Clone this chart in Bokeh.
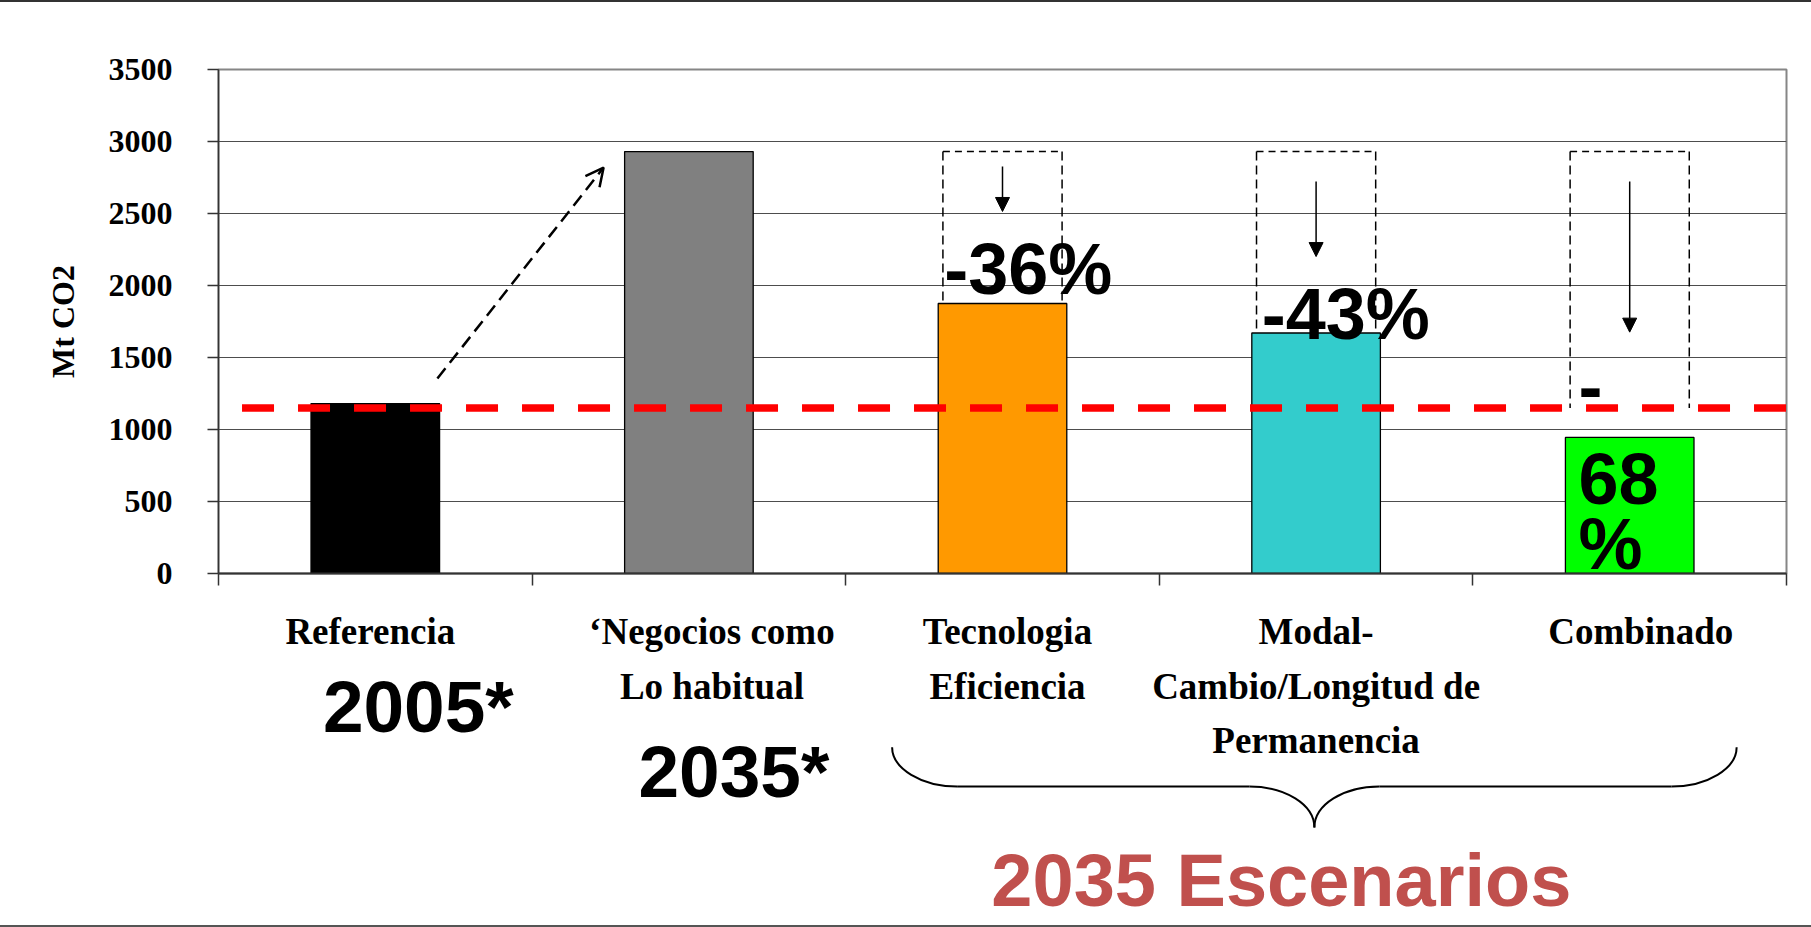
from bokeh.plotting import figure
from bokeh.models import Range1d, FixedTicker, Label, Arrow, NormalHead, OpenHead
from bokeh.layouts import column
from bokeh.embed import file_html
from bokeh.resources import INLINE
from bokeh.core.properties import value

# ---- data -------------------------------------------------------------
categories = [
    "Referencia",
    "\u2018Negocios como\nLo habitual",
    "Tecnologia\nEficiencia",
    "Modal-\nCambio/Longitud de\nPermanencia",
    "Combinado",
]
emissions = [1180, 2930, 1875, 1670, 945]          # Mt CO2
reductions = [None, None, 36, 43, 68]               # % below business as usual
target = 1150                                       # 2005 reference level
bar_colors = ["#000000", "#808080", "#FF9900", "#33CCCC", "#00FF00"]
y_ticks = [0, 500, 1000, 1500, 2000, 2500, 3000, 3500]
period_labels = ["2005*", "2035*"]
group_label = "2035 Escenarios"

# ---- page geometry -----------------------------------------------------
W = 1811
FRAME_L, FRAME_R = 218, 1786
UNIT = (FRAME_R - FRAME_L) / len(categories)        # px per category
MAIN_H = 588
LOWER_TOP, LOWER_BOTTOM = 590, 925
BASE = 0.375                                         # alphabetic baseline shift (em)

SANS = "Liberation Sans"
SERIF = "Liberation Serif"

xs = [i + 0.5 for i in range(len(categories))]
bar_w = 0.41
bau = emissions[1]

# ---- main chart --------------------------------------------------------
p = figure(width=W, height=MAIN_H, x_range=Range1d(0, len(categories)),
           y_range=Range1d(0, 3500), output_backend="svg", toolbar_location=None,
           min_border_left=FRAME_L, min_border_right=W - FRAME_R,
           min_border_top=67, min_border_bottom=17)
p.background_fill_color = "white"
p.border_fill_color = "white"
p.outline_line_color = "#868686"
p.outline_line_width = 2

p.xaxis.ticker = FixedTicker(ticks=list(range(len(categories) + 1)))
p.xaxis.major_label_overrides = {i: "" for i in range(len(categories) + 1)}
p.xaxis.major_label_text_font_size = "0px"
p.xaxis.major_label_standoff = 0
p.xaxis.major_tick_in = 0
p.xaxis.major_tick_out = 12
p.xaxis.minor_tick_line_color = None
p.xaxis.axis_line_color = "#333333"
p.xaxis.axis_line_width = 2
p.xaxis.major_tick_line_color = "#333333"
p.xaxis.major_tick_line_width = 1.5

p.yaxis.ticker = FixedTicker(ticks=y_ticks)
p.yaxis.major_label_text_font = SERIF
p.yaxis.major_label_text_font_style = "bold"
p.yaxis.major_label_text_font_size = "32px"
p.yaxis.major_label_text_color = "black"
p.yaxis.major_label_standoff = 35
p.yaxis.major_tick_in = 0
p.yaxis.major_tick_out = 11
p.yaxis.minor_tick_line_color = None
p.yaxis.axis_line_color = "#333333"
p.yaxis.axis_line_width = 1.5
p.yaxis.major_tick_line_color = "#333333"
p.yaxis.major_tick_line_width = 1.5
p.yaxis.axis_label = "Mt CO2"
p.yaxis.axis_label_text_font = SERIF
p.yaxis.axis_label_text_font_style = "bold"
p.yaxis.axis_label_text_font_size = "32px"
p.yaxis.axis_label_text_color = "black"
p.yaxis.axis_label_standoff = 25

p.xgrid.visible = False
p.ygrid.ticker = FixedTicker(ticks=y_ticks)
p.ygrid.grid_line_color = "#4d4d4d"
p.ygrid.grid_line_width = 1.2

p.vbar(x=xs, top=emissions, width=bar_w, fill_color=bar_colors,
       line_color="#000000", line_width=1.3)

# dashed boxes marking the business-as-usual level above each scenario
box_half = 0.19
box_x0, box_x1, side_x, side_top, side_bottom = [], [], [], [], []
for i, r in enumerate(reductions):
    if r is None:
        continue
    box_x0.append(xs[i] - box_half)
    box_x1.append(xs[i] + box_half)
    for sx in (xs[i] - box_half, xs[i] + box_half):
        side_x.append(sx)
        side_top.append(bau)
        side_bottom.append(max(emissions[i], target))
p.segment(x0=box_x0, y0=[bau] * len(box_x0), x1=box_x1, y1=[bau] * len(box_x0),
          line_color="black", line_width=1.5, line_dash="7 5")
p.segment(x0=side_x, y0=side_top, x1=side_x, y1=side_bottom,
          line_color="black", line_width=1.5, line_dash="9 5")

# reference level line
p.line(x=[0.075, len(categories)], y=[target, target], line_color="#FF0000",
       line_width=7.5, line_dash="32 24")

# growth arrow from 2005 to business as usual
p.add_layout(Arrow(x_start=0.698, y_start=1354, x_end=1.228, y_end=2819,
                   line_color="black", line_width=2.5, line_dash="13 7",
                   end=OpenHead(size=18, line_color="black", line_width=2.5)))

# drop arrows inside the boxes
drop_start = {2: 2826, 3: 2722, 4: 2722}
drop_tip = {2: 2514, 3: 2201, 4: 1676}
for i in drop_start:
    p.add_layout(Arrow(x_start=xs[i], y_start=drop_start[i], x_end=xs[i], y_end=drop_tip[i],
                       line_color="black", line_width=1.5,
                       end=NormalHead(size=14, fill_color="black", line_color="black")))

# reduction labels beside the scenario bars
PCT_FS = 72
label_layout = {
    2: dict(wrap=False, dx=6, dys=[8]),
    3: dict(wrap=False, dx=10, dys=[-8]),
    4: dict(wrap=True, dx=13, dys=[24, -69, -134]),
}
for i, r in enumerate(reductions):
    if r is None:
        continue
    lay = label_layout[i]
    lines = ["-", str(r), "%"] if lay["wrap"] else [f"-{r}%"]
    for line, dy in zip(lines, lay["dys"]):
        p.add_layout(Label(x=xs[i] - bar_w / 2, y=emissions[i], text=line,
                           x_offset=lay["dx"], y_offset=dy + BASE * PCT_FS,
                           text_font=SANS, text_font_style="bold",
                           text_font_size=f"{PCT_FS}px", text_color="black",
                           text_align="left", text_baseline="alphabetic"))

# ---- category captions, years and scenario brace ----------------------
q = figure(width=W, height=LOWER_BOTTOM - LOWER_TOP,
           x_range=p.x_range, y_range=Range1d(LOWER_BOTTOM, LOWER_TOP),
           x_axis_location=None, y_axis_location=None,
           min_border_left=FRAME_L, min_border_right=W - FRAME_R,
           min_border_top=0, min_border_bottom=0,
           outline_line_color=None, output_backend="svg", toolbar_location=None)
q.grid.visible = False
q.background_fill_color = "white"
q.border_fill_color = "white"

CAP_FS = 37
cap_dx = [-5, 23, 5, 0, 11]
cx, cy, ct, cdx = [], [], [], []
for i, cat in enumerate(categories):
    for j, line in enumerate(cat.split("\n")):
        cx.append(xs[i])
        cy.append(645 + 54.5 * j - BASE * CAP_FS)
        ct.append(line)
        cdx.append(cap_dx[i])
q.text(x=cx, y=cy, text=ct, x_offset=cdx, text_font=value(SERIF),
       text_font_style="bold", text_font_size=f"{CAP_FS}px", text_color="black",
       text_align="center", text_baseline="alphabetic")

YEAR_FS = 73
q.text(x=xs[:2], y=[733 - BASE * YEAR_FS, 798 - BASE * YEAR_FS], text=period_labels,
       x_offset=[43, 45], text_font=value(SANS), text_font_style="bold",
       text_font_size=f"{YEAR_FS}px", text_color="black",
       text_align="center", text_baseline="alphabetic")

# brace grouping the three 2035 scenarios
L, R = 2 + 0.148, len(categories) - 0.159
M = (L + R) / 2
h = 65 / UNIT
y_top, y_bar, y_tip = 746.7, 786, 827
q.bezier(x0=[L, M - h, M + h, R], y0=[y_top, y_bar, y_bar, y_top],
         x1=[L + h, M, M, R - h], y1=[y_bar, y_tip, y_tip, y_bar],
         cx0=[L, M - 0.45 * h, M + 0.45 * h, R], cy0=[768, y_bar, y_bar, 768],
         cx1=[L + 0.45 * h, M, M, R - 0.45 * h], cy1=[y_bar, 804, 804, y_bar],
         line_color="black", line_width=2)
q.segment(x0=[L + h, M + h], y0=[y_bar, y_bar], x1=[M - h, R - h], y1=[y_bar, y_bar],
          line_color="black", line_width=2)

GROUP_FS = 74
q.text(x=[M], y=[908 - BASE * GROUP_FS], text=[group_label], x_offset=[-33],
       text_font=value(SANS), text_font_style="bold", text_font_size=f"{GROUP_FS}px",
       text_color="#C0504D", text_align="center", text_baseline="alphabetic")

layout = column(p, q, styles={"border-top": "2px solid #333333",
                              "border-bottom": "2px solid #555555"})

open("out.html", "w").write(file_html(layout, INLINE))
